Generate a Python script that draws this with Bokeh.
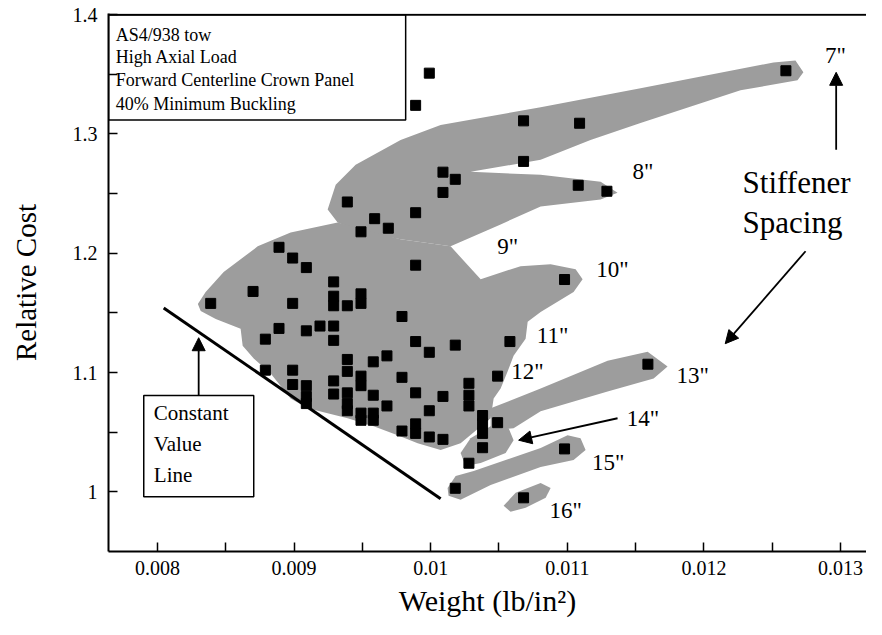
from bokeh.plotting import figure
from bokeh.models import FixedTicker, Arrow, NormalHead, Span, Range1d
from bokeh.core.properties import value
from bokeh.embed import file_html
from bokeh.resources import INLINE

FONT = "Liberation Serif"

# ---------------- data ----------------
weight = [0.00999, 0.00989, 0.01068, 0.01109, 0.01068, 0.01260,
          0.01009, 0.01018, 0.01009, 0.01108, 0.01129, 0.00939, 0.00959, 0.00949, 0.00969, 0.00989,
          0.00889, 0.00899, 0.00909, 0.00989, 0.00929, 0.00870, 0.00839, 0.00899, 0.00929, 0.00929,
          0.00939, 0.00949, 0.00949,
          0.00979, 0.01098, 0.00889, 0.00909, 0.00919, 0.00929, 0.00929, 0.00879, 0.00989,
          0.01058, 0.01018, 0.00999, 0.00968, 0.00958, 0.00939, 0.00939, 0.00879, 0.00899,
          0.01049, 0.00949, 0.00949, 0.00899, 0.00909, 0.00909, 0.00909, 0.00929, 0.00929, 0.00939,
          0.00939, 0.00958, 0.00979, 0.00989, 0.01009, 0.01028, 0.01028, 0.01028, 0.00968,
          0.01159, 0.00939, 0.00949, 0.00949, 0.00958, 0.00958, 0.00999, 0.01038, 0.01049,
          0.00979, 0.00989, 0.00989, 0.00999, 0.01009, 0.01038, 0.01038, 0.01038,
          0.01028, 0.01098, 0.01018, 0.01068]
cost = [1.351, 1.324, 1.311, 1.309, 1.277, 1.353,
        1.268, 1.262, 1.251, 1.257, 1.252, 1.243, 1.229, 1.218, 1.221, 1.234,
        1.205, 1.196, 1.188, 1.190, 1.176, 1.168, 1.158, 1.158, 1.164, 1.156,
        1.156, 1.166, 1.158,
        1.147, 1.178, 1.137, 1.135, 1.139, 1.139, 1.127, 1.128, 1.126,
        1.126, 1.123, 1.117, 1.114, 1.109, 1.111, 1.101, 1.102, 1.102,
        1.097, 1.097, 1.089, 1.090, 1.089, 1.080, 1.074, 1.093, 1.082, 1.083,
        1.074, 1.081, 1.096, 1.083, 1.080, 1.091, 1.081, 1.072, 1.072,
        1.107, 1.068, 1.066, 1.060, 1.066, 1.060, 1.068, 1.064, 1.058,
        1.051, 1.057, 1.049, 1.046, 1.044, 1.057, 1.049, 1.037,
        1.024, 1.036, 1.003, 0.995]

# shaded regions (stiffener-spacing families), outline in data units
region_7_8_x = [0.009246, 0.009305, 0.009451, 0.009780, 0.010073, 0.010805, 0.011536, 0.012509,
                0.012670, 0.012728, 0.012685, 0.012268, 0.011536, 0.011170, 0.010805, 0.010292,
                0.010805, 0.011244, 0.011368, 0.011244, 0.010805, 0.010512, 0.010146, 0.009780,
                0.009488, 0.009319]
region_7_8_y = [1.2367, 1.2575, 1.2742, 1.2950, 1.3075, 1.3225, 1.3383, 1.3600,
                1.3617, 1.3517, 1.3450, 1.3367, 1.3092, 1.2950, 1.2783, 1.2683,
                1.2658, 1.2600, 1.2508, 1.2450, 1.2392, 1.2242, 1.2058, 1.2117,
                1.2183, 1.2258]
region_9_12_x = [0.008296, 0.008353, 0.008485, 0.008734, 0.008975, 0.009319, 0.009780, 0.010146,
                 0.010366, 0.010658, 0.010878, 0.011061, 0.011112, 0.011046, 0.010805, 0.010710,
                 0.010695, 0.010607, 0.010563, 0.010512, 0.010461, 0.010439, 0.010219, 0.010073,
                 0.009905, 0.009758, 0.009583, 0.009392, 0.009100, 0.008975, 0.008829, 0.008705,
                 0.008624, 0.008609, 0.008427, 0.008317]
region_9_12_y = [1.1575, 1.1675, 1.1842, 1.2058, 1.2175, 1.2258, 1.2117, 1.2058,
                 1.1783, 1.1892, 1.1908, 1.1867, 1.1783, 1.1675, 1.1508, 1.1425,
                 1.1283, 1.1142, 1.1008, 1.0867, 1.0783, 1.0617, 1.0408, 1.0350,
                 1.0408, 1.0475, 1.0550, 1.0617, 1.0700, 1.0783, 1.0992, 1.1117,
                 1.1225, 1.1367, 1.1450, 1.1517]
region_13_x = [0.010439, 0.010805, 0.011295, 0.011588, 0.011734, 0.011632, 0.011295, 0.010805,
               0.010607, 0.010439]
region_13_y = [1.0700, 1.0867, 1.1100, 1.1175, 1.1050, 1.0950, 1.0842, 1.0675,
               1.0533, 1.0517]
region_14_x = [0.010219, 0.010292, 0.010439, 0.010571, 0.010607, 0.010549, 0.010366, 0.010256]
region_14_y = [1.0325, 1.0450, 1.0550, 1.0533, 1.0433, 1.0325, 1.0242, 1.0217]
region_15_x = [0.010124, 0.010183, 0.010315, 0.010805, 0.011002, 0.011097, 0.011134, 0.011046,
               0.010805, 0.010439, 0.010219, 0.010131]
region_15_y = [1.0033, 1.0133, 1.0175, 1.0367, 1.0475, 1.0450, 1.0350, 1.0267,
               1.0208, 1.0058, 0.9933, 0.9967]
region_16_x = [0.010534, 0.010622, 0.010805, 0.010878, 0.010842, 0.010695, 0.010585]
region_16_y = [0.9883, 0.9992, 1.0075, 1.0033, 0.9950, 0.9867, 0.9833]

# constant value line
cv_x = [0.008046, 0.010073]
cv_y = [1.1542, 0.9942]

# spacing labels
spacing_labels = ['7"', '8"', '9"', '10"', '11"', '12"', '13"', '14"', '15"', '16"']
spacing_lx = [0.012962, 0.011553, 0.010563, 0.011331, 0.010892, 0.010709, 0.011917, 0.011553, 0.011300, 0.010988]
spacing_ly = [1.3658, 1.2683, 1.2058, 1.1867, 1.1308, 1.1008, 1.0975, 1.0617, 1.0242, 0.9842]

# axes
x_ticks = [0.008, 0.009, 0.01, 0.011, 0.012, 0.013]
x_tick_labels = ["0.008", "0.009", "0.01", "0.011", "0.012", "0.013"]
x_minor = [0.0085, 0.0095, 0.0105, 0.0115, 0.0125]
y_ticks = [1.0, 1.1, 1.2, 1.3, 1.4]
y_tick_labels = ["1", "1.1", "1.2", "1.3", "1.4"]
y_minor = [1.05, 1.15, 1.25, 1.35]

X_START, X_END = 0.007642, 0.013190
Y_START, Y_END = 0.95, 1.401

# ---------------- figure ----------------
p = figure(width=866, height=619, output_backend="svg", toolbar_location=None,
           x_range=Range1d(X_START, X_END), y_range=Range1d(Y_START, Y_END),
           min_border_left=108, min_border_right=0, min_border_top=13, min_border_bottom=65)
p.grid.visible = False
p.outline_line_color = None
p.background_fill_color = "white"
p.border_fill_color = "white"

for ax, ticks, minor, labels in ((p.xaxis, x_ticks, x_minor, x_tick_labels),
                                 (p.yaxis, y_ticks, y_minor, y_tick_labels)):
    ax.ticker = FixedTicker(ticks=ticks, minor_ticks=minor)
    ax.major_label_overrides = dict(zip(ticks, labels))
    ax.major_tick_in = 9
    ax.major_tick_out = 0
    ax.minor_tick_in = 9
    ax.minor_tick_out = 0
    ax.axis_line_width = 2
    ax.major_tick_line_width = 1.5
    ax.minor_tick_line_width = 1.5
    ax.major_label_text_font = FONT
    ax.major_label_text_font_size = "20px"
    ax.major_label_text_color = "black"
    ax.axis_label_text_font = FONT
    ax.axis_label_text_font_style = "normal"
    ax.axis_label_text_color = "black"

p.xaxis.major_label_standoff = 9
p.yaxis.major_label_standoff = 11
p.xaxis.axis_label = "Weight (lb/in\u00b2)"
p.yaxis.axis_label = "Relative Cost"
p.xaxis.axis_label_text_font_size = "30px"
p.yaxis.axis_label_text_font_size = "29px"
p.xaxis.axis_label_standoff = 6
p.yaxis.axis_label_standoff = 28

p.add_layout(Span(location=1.4, dimension="width", line_color="black", line_width=2))

shade = "#9d9d9d"
p.patches(xs=[region_7_8_x, region_9_12_x, region_13_x, region_14_x, region_15_x, region_16_x],
          ys=[region_7_8_y, region_9_12_y, region_13_y, region_14_y, region_15_y, region_16_y],
          fill_color=shade, line_color=None)

p.scatter(weight, cost, marker="square", size=10, color="black")

p.line(cv_x, cv_y, line_color="black", line_width=3)

p.text(spacing_lx, spacing_ly, text=spacing_labels, text_font=value(FONT),
       text_font_size="23px", text_align="center", text_baseline="middle", text_color="black")

# info box
p.quad(left=[X_START], right=[0.009817], bottom=[1.3117], top=[1.4],
       fill_color="white", line_color="black", line_width=1.5)
info_lines = ["AS4/938  tow", "High Axial Load", "Forward Centerline Crown Panel", "40% Minimum Buckling"]
p.text([0.007695] * 4, [1.3833, 1.3646, 1.345, 1.3254], text=info_lines, text_font=value(FONT),
       text_font_size="18px", text_align="left", text_baseline="middle", text_color="black")

# constant value box
p.quad(left=[0.0079], right=[0.008705], bottom=[0.9958], top=[1.0808],
       fill_color="white", line_color="black", line_width=1.5)
p.text([0.007974] * 3, [1.0658, 1.04, 1.0142], text=["Constant", "Value", "Line"],
       text_font=value(FONT), text_font_size="21px", text_align="left",
       text_baseline="middle", text_color="black")

p.text([0.012283, 0.012283], [1.2596, 1.2258], text=["Stiffener", "Spacing"],
       text_font=value(FONT), text_font_size="31px", text_align="left",
       text_baseline="middle", text_color="black")

def arrow(x0, y0, x1, y1):
    p.add_layout(Arrow(end=NormalHead(size=13, fill_color="black", line_color="black"),
                       x_start=x0, y_start=y0, x_end=x1, y_end=y1,
                       line_color="black", line_width=1.8))

arrow(0.012968, 1.2867, 0.012968, 1.3517)
arrow(0.012744, 1.2017, 0.012156, 1.1242)
arrow(0.011368, 1.0617, 0.010644, 1.0433)
arrow(0.008302, 1.0808, 0.008302, 1.1292)

open("out.html", "w").write(file_html(p, INLINE))
